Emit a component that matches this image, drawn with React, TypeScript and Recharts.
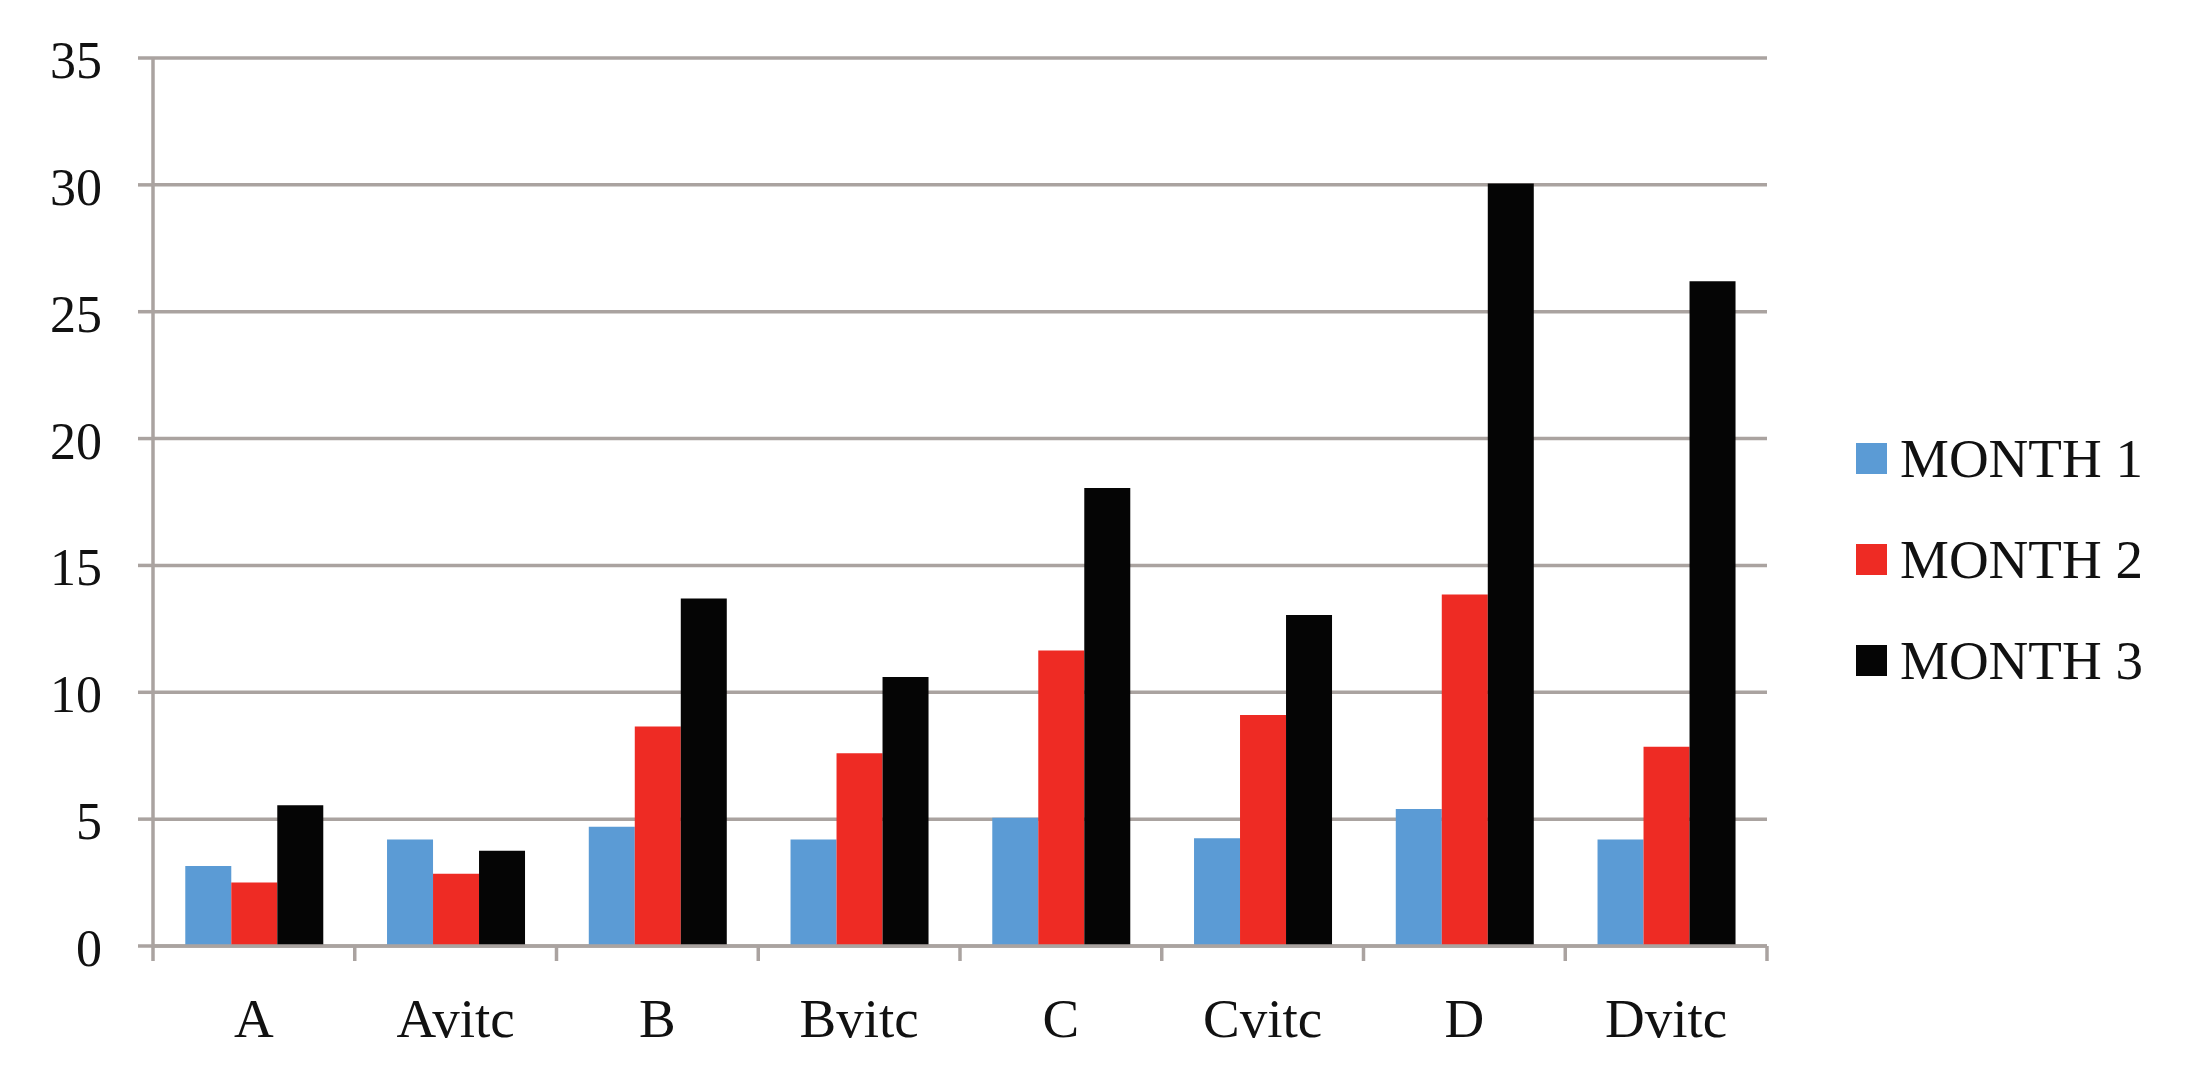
import { BarChart, Bar, XAxis, YAxis, CartesianGrid } from 'recharts';

const categories = ['A', 'Avitc', 'B', 'Bvitc', 'C', 'Cvitc', 'D', 'Dvitc'];
const month1 = [3.15, 4.2, 4.7, 4.2, 5.05, 4.25, 5.4, 4.2];
const month2 = [2.5, 2.85, 8.65, 7.6, 11.65, 9.1, 13.85, 7.85];
const month3 = [5.55, 3.75, 13.7, 10.6, 18.05, 13.05, 30.05, 26.2];
const yTicks = [0, 5, 10, 15, 20, 25, 30, 35];

const seriesNames = ['MONTH 1', 'MONTH 2', 'MONTH 3'];
const seriesColors = ['#5b9bd5', '#ee2b24', '#050505'];

const rows = categories.map((name, i) => ({
  name,
  m1: month1[i],
  m2: month2[i],
  m3: month3[i],
}));
const seriesKeys = ['m1', 'm2', 'm3'];

const FONT = '"Liberation Serif", "Times New Roman", serif';
const GRID = '#aaa3a0';

function YTick(props: any) {
  const { x, y, payload } = props;
  return (
    <text x={x} y={y} dy={20} textAnchor="end" fontFamily={FONT} fontSize={52} fill="#111">
      {payload.value}
    </text>
  );
}

// category label plus Excel-style tick marks on the band edges
function XTick(props: any) {
  const { x, y, payload, index } = props;
  const half = payload.offset ?? 0;
  const top = y - 52;
  const last = index === categories.length - 1;
  return (
    <g>
      <line x1={x - half} x2={x - half} y1={top} y2={top + 15} stroke={GRID} strokeWidth={3.5} />
      {last && <line x1={x + half} x2={x + half} y1={top} y2={top + 15} stroke={GRID} strokeWidth={3.5} />}
      <text x={x} y={y} dy={39} textAnchor="middle" fontFamily={FONT} fontSize={55} fill="#111">
        {payload.value}
      </text>
    </g>
  );
}

export default function App() {
  return (
    <div style={{ position: 'absolute', left: 0, top: 0, width: 2191, height: 1090, background: '#fff' }}>
      <BarChart
        width={2191}
        height={1090}
        data={rows}
        margin={{ top: 58, right: 424, left: 0, bottom: 44 }}
        barGap={0}
        barCategoryGap="16%"
      >
        <CartesianGrid vertical={false} stroke={GRID} strokeWidth={3.5} />
        <XAxis
          dataKey="name"
          height={100}
          tickSize={0}
          tickMargin={52}
          tickLine={false}
          axisLine={{ stroke: GRID, strokeWidth: 3.5 }}
          tick={<XTick />}
          interval={0}
        />
        <YAxis
          width={153}
          domain={[0, 35]}
          ticks={yTicks}
          tickSize={15}
          tickMargin={36}
          axisLine={{ stroke: GRID, strokeWidth: 3.5 }}
          tickLine={{ stroke: GRID, strokeWidth: 3.5 }}
          tick={<YTick />}
        />
        {seriesKeys.map((k, i) => (
          <Bar key={k} dataKey={k} name={seriesNames[i]} fill={seriesColors[i]} isAnimationActive={false} />
        ))}
      </BarChart>
      <div style={{ position: 'absolute', left: 1856, top: 408 }}>
        {seriesNames.map((n, i) => (
          <div key={n} style={{ display: 'flex', alignItems: 'center', height: 101 }}>
            <div style={{ width: 31, height: 31, background: seriesColors[i], marginRight: 13 }} />
            <span style={{ fontFamily: FONT, fontSize: 55, color: '#111', lineHeight: 1 }}>{n}</span>
          </div>
        ))}
      </div>
    </div>
  );
}
